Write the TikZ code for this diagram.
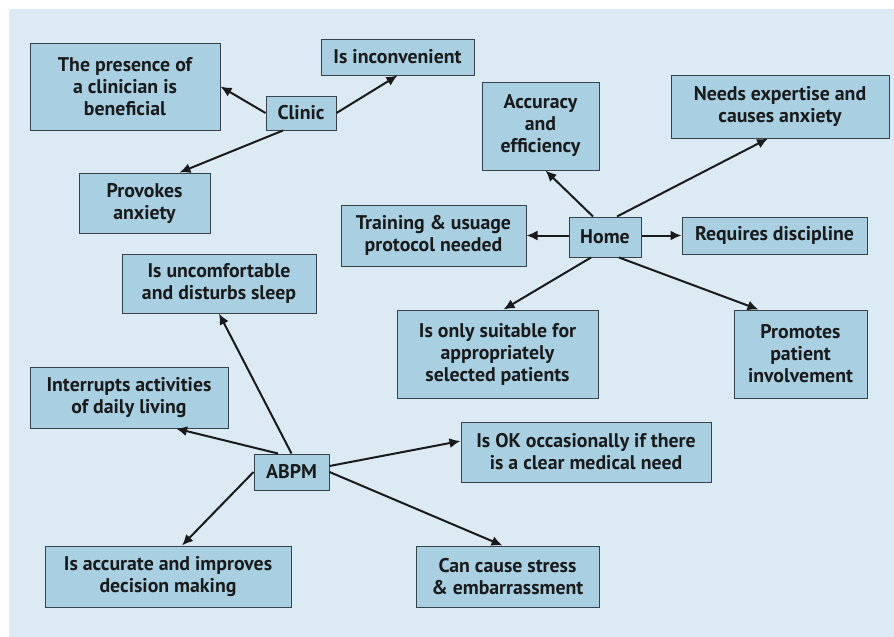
\documentclass[tikz,border=0pt]{standalone}
\usepackage{fontspec}
\setmainfont{PT Sans}
\usetikzlibrary{arrows.meta,calc}
\definecolor{bgc}{HTML}{DCEBF3}
\definecolor{boxc}{HTML}{A8D0E2}
\definecolor{edgec}{HTML}{37434A}
\definecolor{inkc}{HTML}{1A1A1A}
\tikzset{
  card/.style={draw=edgec, line width=1pt, fill=boxc, inner sep=0pt, align=center,
    text=inkc, font=\fontsize{19.8}{22}\selectfont\bfseries},
  link/.style={draw=inkc, line width=2pt, -{Latex[length=11pt,width=10pt]}}
}
\begin{document}
\begin{tikzpicture}[x=1pt,y=-1pt]
\useasboundingbox (0,0) rectangle (894,637);
\fill[bgc] (9,9) rectangle (894,637);
% Clinic group
\node[card, minimum width=190pt, minimum height=87pt] (presence) at (125,86.5) {The presence of\\a clinician is\\beneficial};
\node[card, minimum width=70pt, minimum height=34pt] (clinic) at (301,113) {Clinic};
\node[card, minimum width=153pt, minimum height=36pt] (inconv) at (397.5,57) {Is inconvenient};
\node[card, minimum width=131pt, minimum height=60pt] (provokes) at (144.5,203) {Provokes\\anxiety};
% Home group
\node[card, minimum width=117pt, minimum height=88pt] (accuracy) at (540.5,126) {Accuracy\\and\\efficiency};
\node[card, minimum width=218pt, minimum height=63pt] (needs) at (780,106.5) {Needs expertise and\\causes anxiety};
\node[card, minimum width=185pt, minimum height=61pt] (training) at (433.5,235.5) {Training \& usuage\\protocol needed};
\node[card, minimum width=72pt, minimum height=40pt] (home) at (605,237) {Home};
\node[card, minimum width=185pt, minimum height=37pt] (requires) at (774.5,235.5) {Requires discipline};
\node[card, minimum width=201pt, minimum height=88pt] (isonly) at (497.5,354) {Is only suitable for\\appropriately\\selected patients};
\node[card, minimum width=133pt, minimum height=88pt] (promotes) at (800.5,354) {Promotes\\patient\\involvement};
% ABPM group
\node[card, minimum width=194pt, minimum height=59pt] (uncomf) at (219,283.5) {Is uncomfortable\\and disturbs sleep};
\node[card, minimum width=198pt, minimum height=61pt] (interrupts) at (129,397.5) {Interrupts activities\\of daily living};
\node[card, minimum width=75pt, minimum height=36pt] (abpm) at (291.5,472) {ABPM};
\node[card, minimum width=246pt, minimum height=61pt] (isacc) at (168,576.5) {Is accurate and improves\\decision making};
\node[card, minimum width=250pt, minimum height=60pt] (isok) at (586,452) {Is OK occasionally if there\\is a clear medical need};
\node[card, minimum width=183pt, minimum height=61pt] (cancause) at (507.5,576.5) {Can cause stress\\\& embarrassment};
% connectors
\draw[link] (clinic.west) -- (presence.east);
\draw[link] (clinic.east) -- (inconv.south);
\draw[link] ([xshift=-18pt]clinic.south) -- ([xshift=35pt]provokes.north);
\draw[link] ([xshift=-12pt]home.north) -- ([xshift=5pt]accuracy.south);
\draw[link] ([xshift=12pt]home.north) -- ([xshift=-12pt]needs.south);
\draw[link] ([yshift=1.5pt]home.west) -- (training.east);
\draw[link] ([yshift=1.5pt]home.east) -- (requires.west);
\draw[link] ([xshift=-14pt]home.south) -- ([xshift=6pt]isonly.north);
\draw[link] ([xshift=14pt]home.south) -- ([xshift=-42pt]promotes.north);
\draw[link] (abpm.north) -- (uncomf.south);
\draw[link] ([xshift=-13.5pt]abpm.north) -- ([xshift=47pt]interrupts.south);
\draw[link] (abpm.west) -- ([xshift=14pt]isacc.north);
\draw[link] ([yshift=6pt]abpm.east) -- ([yshift=11pt]isok.west);
\draw[link] (abpm.east) -- ([xshift=-5pt]cancause.north);
\end{tikzpicture}
\end{document}
